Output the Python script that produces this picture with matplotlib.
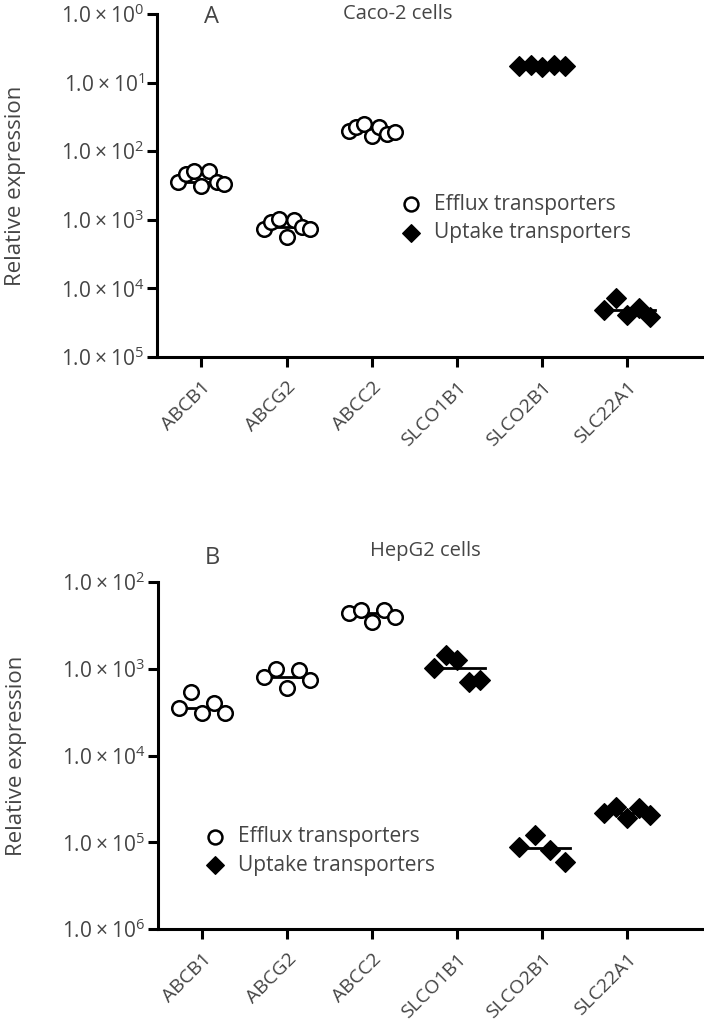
import numpy as np
import matplotlib
matplotlib.use("Agg")
import matplotlib.pyplot as plt

plt.rcParams['font.family'] = ['Open Sans', 'DejaVu Sans']
plt.rcParams['mathtext.fontset'] = 'custom'
plt.rcParams['mathtext.rm'] = 'Open Sans'

genes = ["ABCB1", "ABCG2", "ABCC2", "SLCO1B1", "SLCO2B1", "SLC22A1"]
efflux = ["ABCB1", "ABCG2", "ABCC2"]

# log10 of relative expression (left to right in each cluster)
caco2 = {
    "ABCB1": [-2.45, -2.33, -2.29, -2.51, -2.29, -2.45, -2.48],
    "ABCG2": [-3.13, -3.03, -2.99, -3.25, -3.01, -3.10, -3.13],
    "ABCC2": [-1.71, -1.64, -1.61, -1.78, -1.65, -1.75, -1.72],
    "SLCO1B1": [],
    "SLCO2B1": [-0.76, -0.74, -0.77, -0.74, -0.76],
    "SLC22A1": [-4.32, -4.14, -4.39, -4.29, -4.41],
}
hepg2 = {
    "ABCB1": [-3.45, -3.27, -3.51, -3.39, -3.51],
    "ABCG2": [-3.10, -3.00, -3.22, -3.01, -3.13],
    "ABCC2": [-2.36, -2.32, -2.46, -2.32, -2.40],
    "SLCO1B1": [-2.99, -2.84, -2.90, -3.15, -3.13],
    "SLCO2B1": [-5.05, -4.92, -5.09, -5.23],
    "SLC22A1": [-4.66, -4.59, -4.72, -4.61, -4.69],
}

# exponents as printed on the axis (minus signs are missing in the figure)
caco2_tick_exp = ["0", "1", "2", "3", "4", "5"]
hepg2_tick_exp = ["2", "3", "4", "5", "6"]

grey = "#454545"


def panel(ax, data, tick_exp, top_exp, letter, title, title_xy, letter_xy, leg_anchor):
    for i, g in enumerate(genes):
        vals = 10 ** np.array(data[g])
        if len(vals) == 0:
            continue
        xs = i + np.linspace(-0.27, 0.27, len(vals))
        med = np.median(vals)
        ax.plot([i - 0.32, i + 0.32], [med, med], color="black", lw=2, zorder=2)
        if g in efflux:
            ax.scatter(xs, vals, s=110, marker="o", facecolors="white",
                       edgecolors="black", linewidths=1.8, zorder=3)
        else:
            ax.scatter(xs, vals, s=100, marker="D", color="black", zorder=3)

    ax.set_yscale("log")
    exps = np.arange(top_exp, top_exp - len(tick_exp), -1)
    ax.set_ylim(10.0 ** exps[-1], 10.0 ** exps[0])
    ax.set_yticks(10.0 ** exps)
    ax.set_yticklabels([r"$\mathrm{1.0\times10^{%s}}$" % e for e in tick_exp])
    ax.minorticks_off()
    ax.set_xlim(-0.52, 5.9)
    ax.set_xticks(range(len(genes)))
    ax.set_xticklabels(genes, rotation=45, ha="right", rotation_mode="anchor")

    for s in ["top", "right"]:
        ax.spines[s].set_visible(False)
    for s in ["left", "bottom"]:
        ax.spines[s].set_linewidth(2.2)
    ax.tick_params(direction="out", length=7, width=2.2, labelsize=15,
                   labelcolor=grey, pad=2)
    ax.tick_params(axis="x", pad=8, labelsize=14)
    ax.set_ylabel("Relative expression", fontsize=16, color=grey)
    ax.yaxis.set_label_coords(-0.24, 0.5)

    ax.text(letter_xy[0], letter_xy[1], letter, transform=ax.transAxes,
            fontsize=17, color=grey, ha="center", va="center")
    ax.text(title_xy[0], title_xy[1], title, transform=ax.transAxes,
            fontsize=14.5, color=grey, ha="center", va="center")

    h1 = ax.scatter([], [], s=100, marker="o", facecolors="white",
                    edgecolors="black", linewidths=1.8)
    h2 = ax.scatter([], [], s=80, marker="D", color="black")
    leg = ax.legend([h1, h2], ["Efflux transporters", "Uptake transporters"],
                    loc="upper left", bbox_to_anchor=leg_anchor, frameon=False,
                    fontsize=15, handletextpad=0.6, labelspacing=0.35,
                    borderaxespad=0, handlelength=1.0)
    for t in leg.get_texts():
        t.set_color(grey)


fig = plt.figure(figsize=(7.04, 10.32), dpi=100)
ax1 = fig.add_axes([157 / 704, 1 - 357 / 1032, 547 / 704, 343 / 1032])
ax2 = fig.add_axes([158 / 704, 1 - 929 / 1032, 546 / 704, 347 / 1032])

panel(ax1, caco2, caco2_tick_exp, 0, "A", "Caco-2 cells",
      (0.44, 1.0), (0.1, 0.99), (0.43, 0.5))
panel(ax2, hepg2, hepg2_tick_exp, -2, "B", "HepG2 cells",
      (0.49, 1.09), (0.1, 1.07), (0.07, 0.32))

fig.savefig("out.png", dpi=100)
